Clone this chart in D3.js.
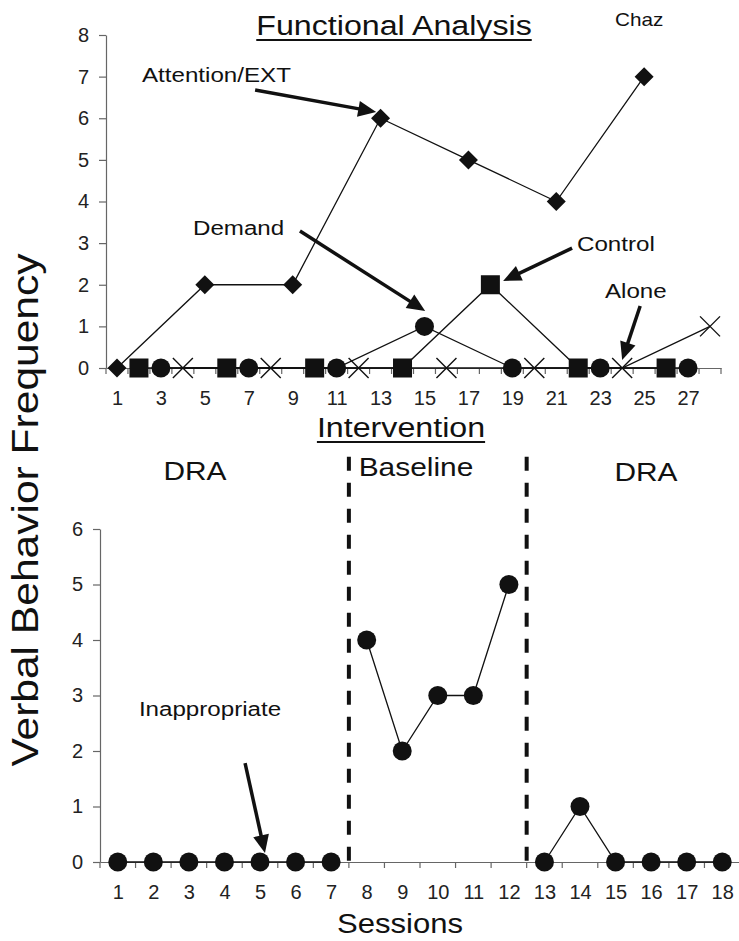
<!DOCTYPE html>
<html>
<head>
<meta charset="utf-8">
<script src="https://cdn.jsdelivr.net/npm/d3@7"></script>
<style>
  body { margin: 0; background: #fff; }
  svg { display: block; font-family: "Liberation Sans", Arial, sans-serif; }
  .axis path, .axis line { stroke: #666; stroke-width: 1.2; }
  .axis text { fill: #222; font-size: 20px; font-family: "Liberation Sans", Arial, sans-serif; }
</style>
</head>
<body>
<script>
// functional analysis (top panel)
var faSessionCount = 28;
var faTickLabels = [1,3,5,7,9,11,13,15,17,19,21,23,25,27];
var attentionSessions = [1,5,9,13,17,21,25];
var attentionValues   = [0,2,2,6,5,4,7];
var controlSessions   = [2,6,10,14,18,22,26];
var controlValues     = [0,0,0,0,2,0,0];
var demandSessions    = [3,7,11,15,19,23,27];
var demandValues      = [0,0,0,1,0,0,0];
var aloneSessions     = [4,8,12,16,20,24,28];
var aloneValues       = [0,0,0,0,0,0,1];

// intervention (bottom panel)
var ivSessions = d3.range(1, 19);
var inappropriate = [0,0,0,0,0,0,0,4,2,3,3,5,0,1,0,0,0,0];
var phaseNames = ["DRA","Baseline","DRA"];
var phaseStarts = [1,8,13];
var phaseEnds = [7,12,18];

var W = 739, H = 941;
var stretch = 1.15; // text in the original is wider than Arial

var svg = d3.select("body").append("svg")
    .attr("width", W)
    .attr("height", H);

// scales
var xTop = d3.scaleLinear().domain([0.5, faSessionCount + 0.5]).range([106, 721]);
var yTop = d3.scaleLinear().domain([0, 8]).range([368, 35]);
var xBot = d3.scaleLinear().domain([0.5, ivSessions.length + 0.5]).range([100, 740]);
var yBot = d3.scaleLinear().domain([0, 6]).range([862, 529]);

function label(txt, x, y, size, anchor) {
	return svg.append("text")
	    .attr("transform", "translate(" + x + "," + y + ") scale(" + stretch + ",1)")
	    .attr("text-anchor", anchor || "start")
	    .style("font-size", size + "px")
	    .attr("fill", "#111")
	    .text(txt);
}

function underlined(txt, x, y, size) {
	var t = label(txt, x, y, size, "middle");
	var w = t.node().getBBox().width * stretch;
	svg.append("line")
	    .attr("x1", x - w / 2).attr("x2", x + w / 2)
	    .attr("y1", y + 5).attr("y2", y + 5)
	    .attr("stroke", "#111").attr("stroke-width", 2);
}

function arrow(x1, y1, x2, y2) {
	var len = 18, half = 8;
	var a = Math.atan2(y2 - y1, x2 - x1);
	var bx = x2 - len * Math.cos(a), by = y2 - len * Math.sin(a);
	svg.append("line")
	    .attr("x1", x1).attr("y1", y1).attr("x2", bx + 2 * Math.cos(a)).attr("y2", by + 2 * Math.sin(a))
	    .attr("stroke", "#111").attr("stroke-width", 3.5);
	var pts = [[x2, y2],
	    [bx - half * Math.sin(a), by + half * Math.cos(a)],
	    [bx + half * Math.sin(a), by - half * Math.cos(a)]];
	svg.append("polygon").attr("points", pts.join(" ")).attr("fill", "#111");
}

// ---------- top panel axes ----------
var gxTop = svg.append("g").attr("class", "axis")
    .attr("transform", "translate(0," + yTop(0) + ")")
    .call(d3.axisBottom(xTop).tickValues(faTickLabels).tickSize(0).tickPadding(23).tickFormat(d3.format("d")));
gxTop.selectAll(".boundary")
    .data(d3.range(0, faSessionCount + 1))
  .enter().append("line")
    .attr("x1", function(d) { return xTop(d + 0.5); })
    .attr("x2", function(d) { return xTop(d + 0.5); })
    .attr("y1", 0).attr("y2", 6);

svg.append("g").attr("class", "axis")
    .attr("transform", "translate(" + xTop.range()[0] + ",0)")
    .call(d3.axisLeft(yTop).ticks(8).tickSize(7).tickSizeOuter(0).tickPadding(10));

// ---------- top panel series ----------
var line = d3.line();
function series(sessions, values) {
	return sessions.map(function(s, i) { return [xTop(s), yTop(values[i])]; });
}
[[attentionSessions, attentionValues], [controlSessions, controlValues],
 [demandSessions, demandValues], [aloneSessions, aloneValues]].forEach(function(p) {
	svg.append("path")
	    .attr("d", line(series(p[0], p[1])))
	    .attr("fill", "none").attr("stroke", "#111").attr("stroke-width", 1.3);
});

// diamonds
svg.selectAll(".diamond")
    .data(series(attentionSessions, attentionValues))
  .enter().append("path")
    .attr("d", function(d) { var r = 9.5; return "M" + d[0] + "," + (d[1] - r) + "L" + (d[0] + r) + "," + d[1] + "L" + d[0] + "," + (d[1] + r) + "L" + (d[0] - r) + "," + d[1] + "Z"; })
    .attr("fill", "#111");
// squares
svg.selectAll(".square")
    .data(series(controlSessions, controlValues))
  .enter().append("rect")
    .attr("x", function(d) { return d[0] - 9.5; })
    .attr("y", function(d) { return d[1] - 9.5; })
    .attr("width", 19).attr("height", 19)
    .attr("fill", "#111");
// circles
svg.selectAll(".dot")
    .data(series(demandSessions, demandValues))
  .enter().append("circle")
    .attr("cx", function(d) { return d[0]; })
    .attr("cy", function(d) { return d[1]; })
    .attr("r", 9.5).attr("fill", "#111");
// crosses
series(aloneSessions, aloneValues).forEach(function(d) {
	var r = 10;
	svg.append("path")
	    .attr("d", "M" + (d[0] - r) + "," + (d[1] - r) + "L" + (d[0] + r) + "," + (d[1] + r) +
	               "M" + (d[0] - r) + "," + (d[1] + r) + "L" + (d[0] + r) + "," + (d[1] - r))
	    .attr("stroke", "#111").attr("stroke-width", 1.4);
});

// top annotations
underlined("Functional Analysis", 394, 35, 28);
label("Chaz", 615, 26, 18);
label("Attention/EXT", 142, 82, 21);
label("Demand", 193, 235, 21);
label("Control", 577, 251, 21);
label("Alone", 605, 298, 21);
arrow(xTop(7.29), yTop(6.68), xTop(12.8), yTop(6.15));
arrow(xTop(9.33), yTop(3.29), xTop(15.03), yTop(1.37));
arrow(xTop(21.72), yTop(2.88), xTop(18.58), yTop(2.09));
arrow(xTop(24.82), yTop(1.49), xTop(24.0), yTop(0.19));

// ---------- bottom panel ----------
var gxBot = svg.append("g").attr("class", "axis")
    .attr("transform", "translate(0," + yBot(0) + ")")
    .call(d3.axisBottom(xBot).tickValues(ivSessions).tickSize(0).tickPadding(23).tickFormat(d3.format("d")));
gxBot.selectAll(".boundary")
    .data(d3.range(0, ivSessions.length + 1))
  .enter().append("line")
    .attr("x1", function(d) { return xBot(d + 0.5); })
    .attr("x2", function(d) { return xBot(d + 0.5); })
    .attr("y1", 0).attr("y2", 6);

svg.append("g").attr("class", "axis")
    .attr("transform", "translate(" + xBot.range()[0] + ",0)")
    .call(d3.axisLeft(yBot).ticks(6).tickSize(7).tickSizeOuter(0).tickPadding(10));

// phase change lines
phaseEnds.slice(0, -1).forEach(function(e) {
	svg.append("line")
	    .attr("x1", xBot(e + 0.5)).attr("x2", xBot(e + 0.5))
	    .attr("y1", yBot(7.3)).attr("y2", yBot(0))
	    .attr("stroke", "#111").attr("stroke-width", 4)
	    .attr("stroke-dasharray", "14,12");
});

phaseNames.forEach(function(name, i) {
	var pts = d3.range(phaseStarts[i], phaseEnds[i] + 1).map(function(s) {
		return [xBot(s), yBot(inappropriate[s - 1])];
	});
	svg.append("path")
	    .attr("d", line(pts))
	    .attr("fill", "none").attr("stroke", "#111").attr("stroke-width", 1.3);
});

svg.selectAll(".ivdot")
    .data(ivSessions)
  .enter().append("circle")
    .attr("cx", function(d) { return xBot(d); })
    .attr("cy", function(d, i) { return yBot(inappropriate[i]); })
    .attr("r", 9.5).attr("fill", "#111");

underlined("Intervention", 401, 437, 28);
label(phaseNames[0], 195, 480, 26, "middle");
label(phaseNames[1], 416, 476, 26, "middle");
label(phaseNames[2], 646, 481, 26, "middle");
label("Inappropriate", 210, 716, 21, "middle");
arrow(xBot(4.58), yBot(1.78), xBot(5.14), yBot(0.16));

label("Sessions", 400, 933, 27, "middle");

svg.append("text")
    .attr("transform", "translate(38,510) rotate(-90) scale(" + stretch + ",1)")
    .attr("text-anchor", "middle")
    .style("font-size", "37px")
    .attr("fill", "#111")
    .text("Verbal Behavior Frequency");
</script>
</body>
</html>
